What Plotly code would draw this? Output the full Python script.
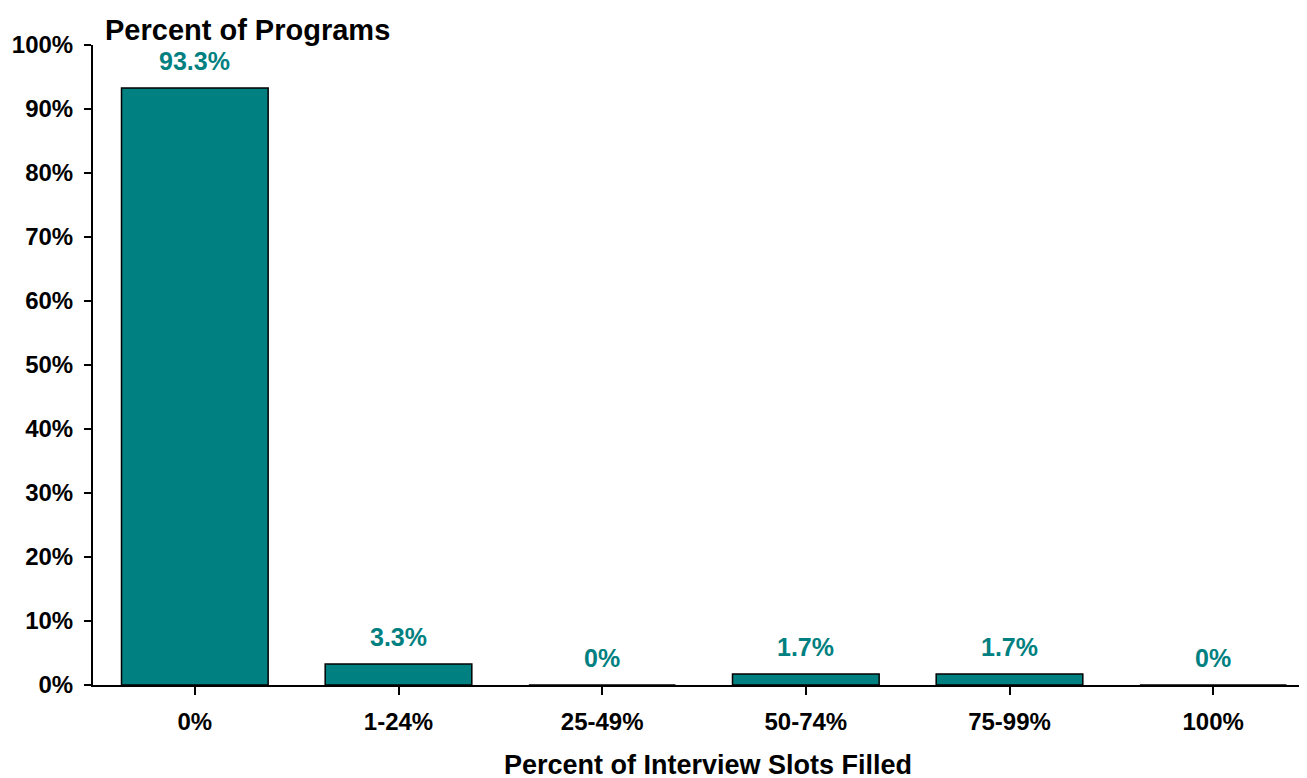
import plotly.graph_objects as go

categories = ["0%", "1-24%", "25-49%", "50-74%", "75-99%", "100%"]
values = [0.933, 0.033, 0.0, 0.017, 0.017, 0.0]
value_labels = ["93.3%", "3.3%", "0%", "1.7%", "1.7%", "0%"]
y_tick_vals = [0, 0.1, 0.2, 0.3, 0.4, 0.5, 0.6, 0.7, 0.8, 0.9, 1.0]
y_tick_text = ["0%", "10%", "20%", "30%", "40%", "50%", "60%", "70%", "80%", "90%", "100%"]

TEAL = "#008080"
FONT = "Liberation Sans"

fig = go.Figure()
fig.add_trace(go.Bar(
    x=list(range(len(categories))),
    y=values,
    width=0.72,
    marker=dict(color=TEAL, line=dict(color="black", width=1.5)),
    hoverinfo="skip",
))

for i, (v, t) in enumerate(zip(values, value_labels)):
    fig.add_annotation(
        x=i, y=v, text=f"<b>{t}</b>", showarrow=False,
        yanchor="bottom", yshift=11,
        font=dict(family=FONT, size=25, color=TEAL),
    )

fig.add_annotation(
    text="<b>Percent of Programs</b>", showarrow=False,
    xref="paper", yref="paper", x=0, y=1, xanchor="left", yanchor="bottom",
    xshift=10, yshift=-3,
    font=dict(family=FONT, size=29, color="black"),
)
fig.add_annotation(
    text="<b>Percent of Interview Slots Filled</b>", showarrow=False,
    xref="paper", yref="paper", x=0.5, y=0, xanchor="center", yanchor="middle",
    xshift=4, yshift=-80,
    font=dict(family=FONT, size=27, color="black"),
)

fig.update_layout(
    width=1307, height=778,
    margin=dict(l=85, r=0, t=37, b=101),
    plot_bgcolor="white", paper_bgcolor="white",
    showlegend=False,
    font=dict(family=FONT, color="black"),
)

fig.update_xaxes(
    range=[-0.5, 5.5],
    tickvals=list(range(len(categories))),
    ticktext=[f"<b>{c}</b>" for c in categories],
    tickson="boundaries",
    ticks="outside", ticklen=8, tickwidth=1.5, tickcolor="black",
    ticklabelstandoff=6,
    showline=True, linecolor="black", linewidth=2,
    showgrid=False, zeroline=False,
    tickfont=dict(family=FONT, size=24, color="black"),
    fixedrange=True,
)
fig.update_yaxes(
    range=[0, 1.0],
    tickvals=y_tick_vals,
    ticktext=[f"<b>{t}</b>" for t in y_tick_text],
    ticks="outside", ticklen=7, tickwidth=1.5, tickcolor="black",
    ticklabelstandoff=6,
    showline=True, linecolor="black", linewidth=2,
    showgrid=False, zeroline=False,
    tickfont=dict(family=FONT, size=24, color="black"),
    fixedrange=True,
)

fig.write_html("out.html")
